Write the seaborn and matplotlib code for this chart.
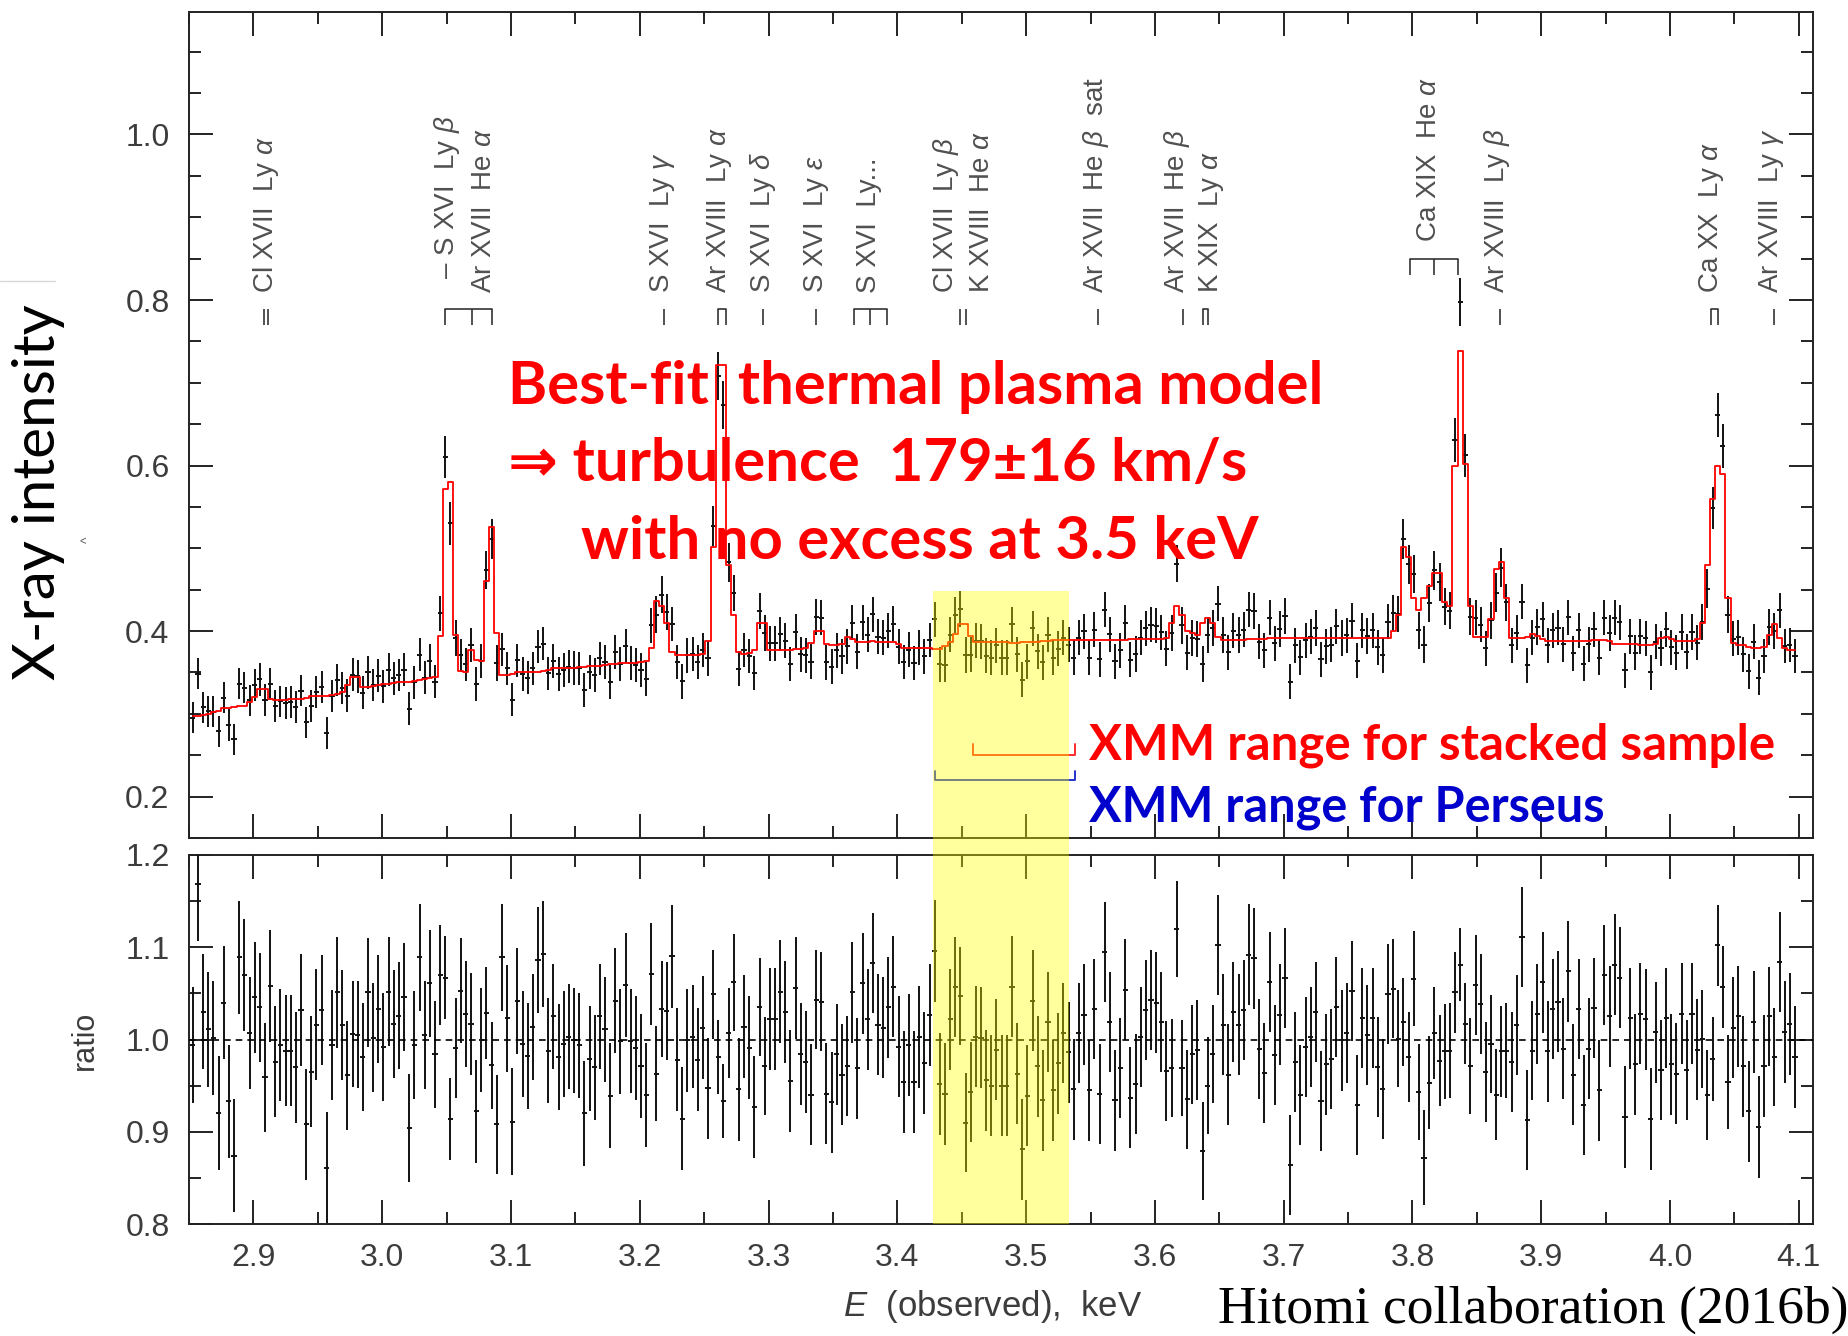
import numpy as np
import pandas as pd
import matplotlib
matplotlib.use("Agg")
import matplotlib.pyplot as plt
import seaborn as sns
from matplotlib.patches import Rectangle
from matplotlib.lines import Line2D
from matplotlib.ticker import MultipleLocator

# ---------------------------------------------------------------- data
# bin centres of the spectrum (keV, observed): 2.853, 2.857, ... 4 eV apart
E_START = 2.853
E_STEP = 0.004

# best-fit thermal plasma model (red histogram), one value per bin
MODEL = [
    0.297, 0.298, 0.299, 0.300, 0.302, 0.303, 0.307, 0.307, 0.308, 0.309,
    0.310, 0.314, 0.320, 0.330, 0.330, 0.318, 0.317, 0.317, 0.317, 0.318,
    0.318, 0.318, 0.319, 0.321, 0.321, 0.322, 0.322, 0.323, 0.324, 0.326,
    0.335, 0.345, 0.344, 0.332, 0.333, 0.334, 0.335, 0.336, 0.336, 0.337,
    0.338, 0.338, 0.339, 0.340, 0.341, 0.342, 0.343, 0.344, 0.394, 0.572,
    0.580, 0.395, 0.352, 0.350, 0.377, 0.365, 0.364, 0.460, 0.526, 0.398,
    0.347, 0.347, 0.348, 0.350, 0.350, 0.350, 0.350, 0.351, 0.352, 0.353,
    0.355, 0.355, 0.355, 0.356, 0.356, 0.357, 0.357, 0.358, 0.358, 0.358,
    0.359, 0.360, 0.360, 0.361, 0.361, 0.362, 0.362, 0.363, 0.364, 0.380,
    0.436, 0.430, 0.410, 0.375, 0.371, 0.371, 0.371, 0.371, 0.371, 0.372,
    0.388, 0.502, 0.722, 0.722, 0.480, 0.420, 0.375, 0.372, 0.373, 0.377,
    0.410, 0.410, 0.377, 0.377, 0.377, 0.377, 0.377, 0.378, 0.378, 0.380,
    0.386, 0.400, 0.400, 0.385, 0.383, 0.383, 0.384, 0.393, 0.390, 0.387,
    0.387, 0.387, 0.388, 0.387, 0.387, 0.387, 0.387, 0.384, 0.380, 0.380,
    0.379, 0.379, 0.379, 0.379, 0.378, 0.378, 0.382, 0.387, 0.397, 0.408,
    0.408, 0.394, 0.387, 0.387, 0.387, 0.387, 0.387, 0.387, 0.387, 0.386,
    0.386, 0.387, 0.387, 0.387, 0.387, 0.388, 0.388, 0.389, 0.389, 0.389,
    0.389, 0.389, 0.389, 0.389, 0.389, 0.389, 0.389, 0.389, 0.389, 0.389,
    0.389, 0.389, 0.390, 0.391, 0.391, 0.391, 0.391, 0.391, 0.391, 0.392,
    0.410, 0.430, 0.420, 0.400, 0.398, 0.395, 0.410, 0.416, 0.410, 0.393,
    0.389, 0.389, 0.389, 0.389, 0.389, 0.390, 0.390, 0.391, 0.391, 0.392,
    0.392, 0.392, 0.392, 0.392, 0.392, 0.392, 0.392, 0.392, 0.392, 0.392,
    0.392, 0.392, 0.392, 0.392, 0.392, 0.392, 0.392, 0.392, 0.392, 0.392,
    0.392, 0.392, 0.392, 0.400, 0.420, 0.502, 0.490, 0.440, 0.425, 0.440,
    0.455, 0.470, 0.470, 0.435, 0.430, 0.600, 0.738, 0.602, 0.430, 0.393,
    0.393, 0.393, 0.415, 0.475, 0.483, 0.440, 0.392, 0.392, 0.392, 0.393,
    0.397, 0.394, 0.390, 0.388, 0.388, 0.388, 0.388, 0.388, 0.388, 0.388,
    0.388, 0.388, 0.389, 0.389, 0.389, 0.388, 0.385, 0.385, 0.385, 0.385,
    0.384, 0.383, 0.383, 0.383, 0.384, 0.392, 0.393, 0.391, 0.388, 0.388,
    0.388, 0.388, 0.390, 0.410, 0.480, 0.560, 0.600, 0.590, 0.440, 0.386,
    0.383, 0.383, 0.381, 0.380, 0.380, 0.381, 0.395, 0.408, 0.392, 0.379,
    0.377, 0.377,
]

# data / model ratio (lower panel), one value per bin
RATIO = [
    0.994, 1.169, 1.030, 1.011, 1.002, 0.920, 1.040, 0.933, 0.874, 1.089,
    1.070, 1.007, 1.046, 1.035, 0.959, 1.058, 0.976, 0.994, 0.988, 0.988,
    0.970, 1.032, 0.908, 0.965, 1.016, 1.032, 0.861, 0.994, 1.051, 1.016,
    0.961, 1.006, 1.005, 0.981, 1.051, 1.002, 1.033, 0.992, 1.052, 1.017,
    1.026, 1.046, 0.904, 0.994, 1.089, 1.005, 1.061, 0.984, 1.070, 1.067,
    0.914, 0.991, 1.053, 1.028, 1.017, 0.922, 0.999, 1.029, 0.972, 0.908,
    1.089, 1.023, 0.911, 1.042, 0.995, 0.982, 1.014, 1.086, 1.093, 0.988,
    1.025, 0.981, 0.995, 1.003, 0.999, 0.994, 0.920, 0.979, 0.970, 1.025,
    1.011, 0.939, 1.042, 0.998, 1.059, 0.998, 0.991, 0.971, 0.940, 1.071,
    0.963, 1.033, 1.031, 1.090, 0.978, 0.914, 0.999, 1.003, 0.978, 1.013,
    0.947, 1.049, 0.981, 0.933, 1.007, 1.062, 0.946, 1.014,
    0.991, 0.927, 1.035, 0.971, 1.022, 1.022, 1.052, 1.030, 0.955, 1.056,
    0.984, 0.976, 0.940, 1.043, 1.041, 0.941, 0.932, 0.984, 0.962, 0.971,
    1.051, 0.969, 1.061, 1.022, 1.083, 1.016, 1.013, 1.035, 1.057, 0.992,
    0.954, 0.994, 0.954, 1.003, 0.975, 1.027, 1.096, 0.952, 0.941, 1.022,
    1.057, 1.047, 0.910, 0.943, 1.003, 1.002, 0.956, 0.950, 0.989, 0.950,
    0.950, 1.057, 0.963, 0.881, 0.939, 1.042, 0.971, 0.934, 1.019, 0.945,
    0.974, 1.007, 0.986, 0.946, 1.007, 1.027, 0.945, 1.033, 0.941, 1.095,
    1.019, 0.934, 0.969, 1.054, 0.937, 0.952, 1.003, 1.032, 1.043, 1.040,
    1.019, 0.966, 0.969, 1.120, 0.969, 0.935, 0.984, 0.989, 0.879, 0.950,
    0.984, 1.102, 1.016, 0.962, 1.030, 1.016, 1.032, 1.092, 1.088, 0.990,
    0.964, 1.062, 0.983,
    1.027, 1.067, 0.864, 0.976, 0.940, 0.992, 1.003, 1.030, 0.933, 0.973,
    0.979, 1.035, 0.999, 1.007, 1.053, 0.929, 1.023, 1.005, 1.023, 0.970,
    0.946, 1.049, 1.055, 1.001, 1.019, 0.981, 1.066, 0.943, 0.872, 0.953,
    1.007, 0.977, 0.987, 0.988, 1.051, 1.081, 1.017, 0.971, 1.059, 1.038,
    0.965, 0.995, 0.940, 0.987, 0.988, 0.976, 1.016, 1.111, 0.913, 0.988,
    1.028, 1.062, 0.987, 1.033, 1.041, 0.990, 1.074, 0.962, 1.033, 0.929,
    0.990, 1.034, 0.945, 1.070, 1.025, 1.081, 1.067, 0.916, 1.023, 0.973,
    1.028, 1.022, 0.914, 1.008, 0.967, 1.023, 0.973, 0.963, 1.028, 0.967,
    1.028, 0.989, 1.001, 0.940, 0.979, 1.102, 1.057, 0.954, 1.013, 1.025,
    0.971, 0.922, 1.019, 0.905, 0.971, 1.025, 0.981, 1.084, 1.008, 1.017,
    0.981,
]

# Poisson error scale: sigma(intensity) = ERR_SCALE * sqrt(model)
ERR_SCALE = 0.034

# line identifications: label, energy of the label, vertical start of label
ID_LABELS = [
    "Cl XVII  Ly $\\alpha$", "\u2013 S XVI  Ly $\\beta$", "Ar XVII  He $\\alpha$",
    "S XVI  Ly $\\gamma$", "Ar XVIII  Ly $\\alpha$", "S XVI  Ly $\\delta$",
    "S XVI  Ly $\\varepsilon$", "S XVI  Ly...", "Cl XVII  Ly $\\beta$",
    "K XVIII  He $\\alpha$", "Ar XVII  He $\\beta$  sat", "Ar XVII  He $\\beta$",
    "K XIX  Ly $\\alpha$", "Ca XIX  He $\\alpha$", "Ar XVIII  Ly $\\beta$",
    "Ca XX  Ly $\\alpha$", "Ar XVIII  Ly $\\gamma$",
]
ID_TEXT_E = [2.910, 3.050, 3.079, 3.218, 3.262, 3.296, 3.337, 3.378, 3.438,
             3.466, 3.554, 3.617, 3.644, 3.813, 3.866, 4.032, 4.079]
ID_TEXT_Y = [0.809, 0.826, 0.809, 0.809, 0.809, 0.809, 0.809, 0.809, 0.809,
             0.809, 0.809, 0.809, 0.809, 0.870, 0.809, 0.809, 0.809]

# line markers below the labels (grouped lines share a bracket)
MARK_GROUPS = [(2.908, 2.911), (3.049, 3.070, 3.085), (3.219,), (3.261, 3.267),
               (3.296,), (3.337,), (3.366, 3.379, 3.392), (3.449, 3.453),
               (3.556,), (3.622,), (3.637, 3.641), (3.798, 3.817, 3.835),
               (3.868,), (4.032, 4.037), (4.081,)]
MARK_BRACKET = [False, True, False, True, False, False, True, False,
                False, False, True, True, False, True, False]
MARK_TOP = [0.789, 0.789, 0.789, 0.789, 0.789, 0.789, 0.789, 0.789,
            0.789, 0.789, 0.789, 0.849, 0.789, 0.789, 0.789]

# highlighted 3.5 keV region and XMM energy ranges
YELLOW_BAND = (3.428, 3.533)
YELLOW_TOP = 0.448
XMM_STACKED = (3.459, 3.538)
XMM_PERSEUS = (3.429, 3.538)

ANNOT_LINES = ["Best-fit  thermal plasma model",
               "\u21d2 turbulence  179\u00b116 km/s",
               "with no excess at 3.5 keV"]

# ---------------------------------------------------------------- style
sns.set_theme(style="ticks")
plt.rcParams["font.family"] = ["Liberation Sans", "DejaVu Sans"]
plt.rcParams["mathtext.fontset"] = "custom"
plt.rcParams["mathtext.rm"] = "Liberation Sans"
plt.rcParams["mathtext.it"] = "Liberation Sans:italic"
plt.rcParams["axes.edgecolor"] = "#222222"
plt.rcParams["axes.linewidth"] = 1.4

GREY_TXT = "#3c3c3c"
TICK_FS = 23

energy = np.round(E_START + E_STEP * np.arange(len(MODEL)), 4)
df = pd.DataFrame({"energy": energy, "model": MODEL, "ratio": RATIO})
df["data"] = df["model"] * df["ratio"]
df["err"] = ERR_SCALE * np.sqrt(df["model"])
df["err_ratio"] = df["err"] / df["model"]

W, H = 1849, 1336
fig = plt.figure(figsize=(W / 100, H / 100), dpi=100)
ax1 = fig.add_axes([189 / W, 1 - 838 / H, (1813 - 189) / W, (838 - 12) / H])
ax2 = fig.add_axes([189 / W, 1 - 1224 / H, (1813 - 189) / W, (1224 - 855) / H])


def style_axes(ax, ymajor, yminor):
    ax.xaxis.set_major_locator(MultipleLocator(0.1))
    ax.xaxis.set_minor_locator(MultipleLocator(0.05))
    ax.yaxis.set_major_locator(MultipleLocator(ymajor))
    ax.yaxis.set_minor_locator(MultipleLocator(yminor))
    ax.tick_params(which="both", direction="in", top=True, right=True,
                   color="#222222", width=1.4, labelsize=TICK_FS,
                   labelcolor=GREY_TXT, pad=14)
    ax.tick_params(which="major", length=17)
    ax.tick_params(which="minor", length=8.5)
    ax.set_xlabel("")
    ax.set_ylabel("")


# ---------------------------------------------------------------- top panel
ax1.errorbar(df["energy"], df["data"], yerr=df["err"], xerr=E_STEP / 2,
             fmt="none", ecolor="#111111", elinewidth=1.4, capsize=0, zorder=3)
sns.lineplot(data=df, x="energy", y="model", ax=ax1, color="red", lw=1.3,
             drawstyle="steps-mid", estimator=None, zorder=4)
ax1.set_xlim(2.85, 4.111)
ax1.set_ylim(0.15, 1.148)
style_axes(ax1, 0.2, 0.05)
ax1.tick_params(axis="x", labelbottom=False)

for lab, ex, ey in zip(ID_LABELS, ID_TEXT_E, ID_TEXT_Y):
    ax1.text(ex, ey, lab, rotation=90, ha="center", va="bottom",
             fontsize=20, color="#505050")
for grp, br, top in zip(MARK_GROUPS, MARK_BRACKET, MARK_TOP):
    ax1.vlines(grp, top - 0.019, top, color="#333333", lw=1.2)
    if br:
        ax1.plot([grp[0], grp[-1]], [top, top], color="#333333", lw=1.2)

# XMM ranges
for rng, ylo, yhi, col in [(XMM_STACKED, 0.250, 0.263, "#ff2a2a"),
                           (XMM_PERSEUS, 0.220, 0.231, "#2233cc")]:
    ax1.plot([rng[0], rng[0], rng[1], rng[1]], [yhi, ylo, ylo, yhi],
             color=col, lw=1.4, zorder=5)

bold = dict(family=["Lato", "DejaVu Sans"], weight="bold")
ax1.text(3.098, 0.674, ANNOT_LINES[0], color="red", fontsize=43, **bold)
ax1.text(3.098, 0.581, ANNOT_LINES[1], color="red", fontsize=43, **bold)
ax1.text(3.154, 0.487, ANNOT_LINES[2], color="red", fontsize=43, **bold)
ax1.text(3.549, 0.245, "XMM range for stacked sample", color="red",
         fontsize=35.5, **bold)
ax1.text(3.549, 0.170, "XMM range for Perseus", color="#0000cc",
         fontsize=35, **bold)

# ---------------------------------------------------------------- ratio panel
ax2.errorbar(df["energy"], df["ratio"], yerr=df["err_ratio"], xerr=E_STEP / 2,
             fmt="none", ecolor="#111111", elinewidth=1.4, capsize=0, zorder=3)
ax2.axhline(1.0, color="black", lw=1.2, ls=(0, (4, 3)), zorder=4)
ax2.set_xlim(2.85, 4.111)
ax2.set_ylim(0.8, 1.2)
style_axes(ax2, 0.1, 0.05)

# ---------------------------------------------------------------- labels
fig.text(39 / W, 1 - 492 / H, "X-ray intensity", rotation=90, ha="center",
         va="center", fontsize=42, family=["Lato", "DejaVu Sans"], color="black")
fig.text(85 / W, 1 - 1040 / H, "ratio", rotation=90, ha="center", va="center",
         fontsize=22, color=GREY_TXT)
fig.text(88 / W, 1 - 540 / H, "^", rotation=90, ha="center", va="center",
         fontsize=10, color="#666666")
fig.add_artist(Line2D([0, 55 / W], [1 - 281 / H] * 2, color="#d8d8d8",
                      lw=1.0, transform=fig.transFigure))
fig.text(843 / W, 1 - 1316 / H, "$E$  (observed),  keV", ha="left",
         va="baseline", fontsize=25, color=GREY_TXT)
fig.text(1218 / W, 1 - 1323 / H, "Hitomi collaboration (2016b)", ha="left",
         va="baseline", fontsize=38.5, family="Liberation Serif", color="black")

# ---------------------------------------------------------------- yellow band
to_fig = fig.transFigure.inverted()
x0, y_top = to_fig.transform(ax1.transData.transform((YELLOW_BAND[0], YELLOW_TOP)))
x1, y_bot = to_fig.transform(ax2.transData.transform((YELLOW_BAND[1], 0.8)))
fig.add_artist(Rectangle((x0, y_bot), x1 - x0, y_top - y_bot,
                         transform=fig.transFigure, facecolor="#ffff00",
                         alpha=0.38, edgecolor="none", zorder=10))

fig.savefig("out.png", dpi=100)
